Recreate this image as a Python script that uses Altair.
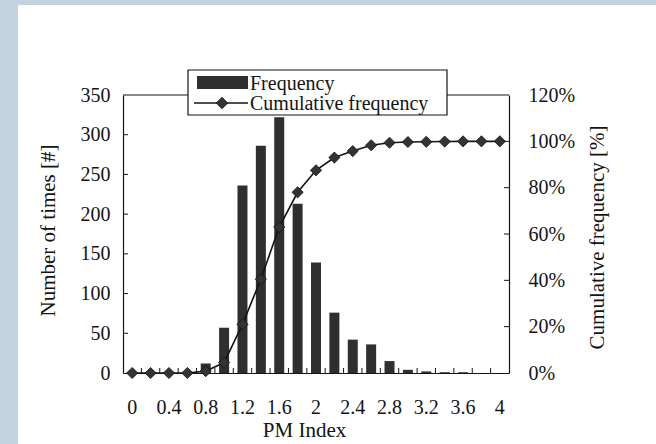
import altair as alt
import pandas as pd

# ---- data ----
categories = ["0", "0.2", "0.4", "0.6", "0.8", "1", "1.2", "1.4", "1.6", "1.8", "2",
              "2.2", "2.4", "2.6", "2.8", "3", "3.2", "3.4", "3.6", "3.8", "4"]
frequency = [0, 0, 0, 0, 12, 57, 236, 286, 322, 213, 139, 76, 42, 36, 15, 4, 2, 1, 1, 0, 0]
cumulative = [0, 0, 0, 0, 0.8, 4.5, 21, 40.5, 63, 78, 87.5, 93, 95.8, 98.3, 99.4,
              99.7, 99.8, 99.9, 100, 100, 100]
x_labels = ["0", "0.4", "0.8", "1.2", "1.6", "2", "2.4", "2.8", "3.2", "3.6", "4"]
left_values = [0, 50, 100, 150, 200, 250, 300, 350]
right_values = [0, 20, 40, 60, 80, 100, 120]
left_inner_ticks = [50, 100, 150, 200, 250, 300]
right_inner_ticks = [20, 40, 60, 80, 100]
legend_labels = ["Frequency", "Cumulative frequency"]

W, H = 386, 278
FONT = "Liberation Serif"
INK = "#141414"
BAR = "#2f2f2f"
STRIP = "#c4d2df"

df = pd.DataFrame({"cat": categories, "freq": frequency, "cum": cumulative})
one = pd.DataFrame({"k": [0]})
xs = alt.Scale(domain=categories, paddingInner=0, paddingOuter=0)
ys_left = alt.Scale(domain=[0, 350])
ys_right = alt.Scale(domain=[0, 120])

common_axis = dict(labelFont=FONT, labelFontSize=20, labelColor=INK,
                   titleFont=FONT, titleFontSize=21, titleFontWeight="normal",
                   titleColor=INK, ticks=False, tickSize=0, grid=False,
                   domain=True, domainColor=INK, domainWidth=1.2)

x_axis = alt.Axis(values=x_labels, labelAngle=0, labelPadding=34,
                  labelBaseline="middle", title="PM Index",
                  titleX=181, titleY=57, titleAlign="center",
                  titleBaseline="middle", **common_axis)
left_axis = alt.Axis(values=left_values, labelPadding=13,
                     title="Number of times [#]", titleX=-75, titleY=135,
                     titleAlign="center", titleBaseline="middle",
                     titleAngle=270, **common_axis)
right_axis = alt.Axis(orient="right", values=right_values,
                      labelExpr="datum.value + '%'", labelPadding=19,
                      title="Cumulative frequency [%]", titleX=88, titleY=142,
                      titleAlign="center", titleBaseline="middle",
                      titleAngle=270, **common_axis)

X = lambda **kw: alt.X("cat:N", scale=xs, sort=categories, axis=x_axis, **kw)

# ---- left group (frequency scale) ----
strip_left = alt.Chart(one).mark_rect(color=STRIP).encode(
    x=alt.value(-123), x2=alt.value(-105), y=alt.value(-95), y2=alt.value(349))
strip_top = alt.Chart(one).mark_rect(color=STRIP).encode(
    x=alt.value(-123), x2=alt.value(533), y=alt.value(-95), y2=alt.value(-90))
top_border = alt.Chart(one).mark_rule(color=INK, strokeWidth=1.2).encode(
    x=alt.value(0), x2=alt.value(W), y=alt.value(0))

bars = alt.Chart(df).mark_bar(size=10, color=BAR).encode(
    x=X(),
    y=alt.Y("freq:Q", scale=ys_left, axis=left_axis),
)

left_ticks = alt.Chart(pd.DataFrame({"freq": left_inner_ticks})).mark_rule(
    color=INK, strokeWidth=1).encode(
    y=alt.Y("freq:Q", scale=ys_left, axis=left_axis), x=alt.value(0), x2=alt.value(5))

x_ticks = alt.Chart(pd.DataFrame({"cat": categories[1:]})).mark_rule(
    color=INK, strokeWidth=1).encode(
    x=X(bandPosition=0),
    y=alt.value(H), y2=alt.value(H - 5))

left = alt.layer(strip_left, strip_top, top_border, bars, left_ticks, x_ticks)

# ---- right group (cumulative scale) ----
line = alt.Chart(df).mark_line(color=INK, strokeWidth=1.6).encode(
    x=X(),
    y=alt.Y("cum:Q", scale=ys_right, axis=right_axis),
)
points = alt.Chart(df).mark_point(shape="diamond", filled=True, size=125,
                                   color="#333333", stroke=INK,
                                   strokeWidth=0.8, opacity=1).encode(
    x=X(),
    y=alt.Y("cum:Q", scale=ys_right, axis=right_axis))

right_ticks = alt.Chart(pd.DataFrame({"cum": right_inner_ticks})).mark_rule(
    color=INK, strokeWidth=1).encode(
    y=alt.Y("cum:Q", scale=ys_right, axis=right_axis),
    x=alt.value(W - 5), x2=alt.value(W))

# ---- legend (drawn on top) ----
leg_box = alt.Chart(one).mark_rect(fill="white", stroke=INK, strokeWidth=1.2).encode(
    x=alt.value(65), x2=alt.value(324), y=alt.value(-25), y2=alt.value(20))
leg_bar = alt.Chart(one).mark_rect(color=BAR).encode(
    x=alt.value(74), x2=alt.value(125), y=alt.value(-19), y2=alt.value(-6))
leg_line = alt.Chart(one).mark_rule(color=INK, strokeWidth=1.6).encode(
    x=alt.value(71), x2=alt.value(125), y=alt.value(8))
leg_pt = alt.Chart(one).mark_point(shape="diamond", filled=True, size=135,
                                   color="#333333", stroke=INK, strokeWidth=0.8,
                                   opacity=1).encode(
    x=alt.value(99), y=alt.value(8))
leg_t1 = alt.Chart(one).mark_text(align="left", baseline="alphabetic", font=FONT,
                                  fontSize=20, color=INK).encode(
    x=alt.value(127), y=alt.value(-5), text=alt.value(legend_labels[0]))
leg_t2 = alt.Chart(one).mark_text(align="left", baseline="alphabetic", font=FONT,
                                  fontSize=20, color=INK).encode(
    x=alt.value(127), y=alt.value(15), text=alt.value(legend_labels[1]))

right = alt.layer(line, points, right_ticks, leg_box, leg_bar, leg_line, leg_pt,
                  leg_t1, leg_t2)

chart = alt.layer(left, right).resolve_scale(y="independent").properties(
    width=W, height=H,
    padding={"left": 123, "top": 95, "right": 147, "bottom": 71},
    autosize=alt.AutoSizeParams(type="none"),
    background="white",
).configure_view(stroke=None)

chart.save("out.html", embed_options={"renderer": "svg", "actions": False})
